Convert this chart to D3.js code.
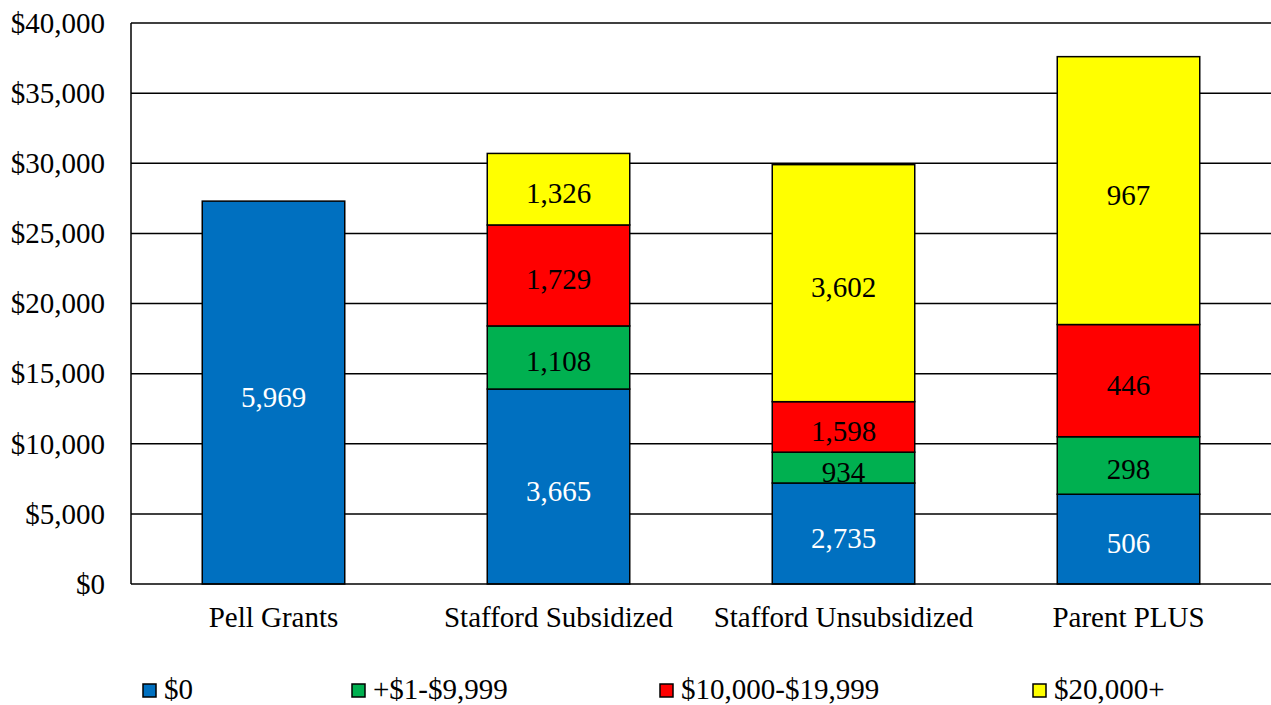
<!DOCTYPE html>
<html>
<head>
<meta charset="utf-8">
<script src="https://cdn.jsdelivr.net/npm/d3@7"></script>
<style>
  html, body { margin: 0; padding: 0; background: #fff; }
  svg, svg text { font-family: 'Liberation Serif', 'Times New Roman', serif !important; }
</style>
</head>
<body>
<svg id="chart" width="1271" height="705"></svg>
<script>
// Aid programs along the x axis
const categories = ["Pell Grants", "Stafford Subsidized", "Stafford Unsubsidized", "Parent PLUS"];
// Debt bands stacked in each bar
const seriesNames = ["$0", "+$1-$9,999", "$10,000-$19,999", "$20,000+"];
const seriesColors = ["#0070C0", "#00B050", "#FF0000", "#FFFF00"];

// Segment heights in dollars, one array per debt band (order follows categories)
const band0 = [27300, 13900, 7200, 6400];
const band1 = [0, 4500, 2200, 4100];
const band2 = [0, 7200, 3600, 8000];
const band3 = [0, 5100, 16900, 19100];

// Student counts written on each segment (null = no label)
const count0 = [5969, 3665, 2735, 506];
const count1 = [null, 1108, 934, 298];
const count2 = [null, 1729, 1598, 446];
const count3 = [null, 1326, 3602, 967];

const yTicks = [0, 5000, 10000, 15000, 20000, 25000, 30000, 35000, 40000];

const bands = [band0, band1, band2, band3];
const counts = [count0, count1, count2, count3];

const W = 1271, H = 705;
const margin = { top: 23, right: 0, bottom: 121, left: 131 };
const plotW = W - margin.left - margin.right;
const plotH = H - margin.top - margin.bottom;
const FS = 29;
const FONT = "'Liberation Serif', 'Times New Roman', serif";

const svg = d3.select("#chart");
const g = svg.append("g").attr("transform", `translate(${margin.left},${margin.top})`);

const x = d3.scaleBand().domain(categories).range([0, plotW]).paddingInner(0.5).paddingOuter(0.25);
const y = d3.scaleLinear().domain([0, 40000]).range([plotH, 0]);

const fmt = d3.format(",");

// Horizontal gridlines
g.append("g")
  .selectAll("line")
  .data(yTicks.filter(d => d > 0))
  .join("line")
  .attr("x1", 0).attr("x2", plotW)
  .attr("y1", d => y(d)).attr("y2", d => y(d))
  .attr("stroke", "#000").attr("stroke-width", 1.5);

// Y axis labels
const yAxis = d3.axisLeft(y).tickValues(yTicks).tickSize(0).tickPadding(26)
  .tickFormat(d => "$" + fmt(d));
const ya = g.append("g").call(yAxis).attr("font-family", null).attr("font-size", null);
ya.select(".domain").remove();
ya.selectAll("text").style("font-size", FS + "px").style("font-family", FONT).attr("fill", "#000");

// Stacked data
const rows = categories.map((c, i) => {
  const r = { category: c };
  seriesNames.forEach((s, k) => { r[s] = bands[k][i]; });
  return r;
});
const stacked = d3.stack().keys(seriesNames)(rows);

const layers = g.append("g").selectAll("g")
  .data(stacked)
  .join("g")
  .attr("fill", (d, k) => seriesColors[k]);

layers.selectAll("rect")
  .data((d, k) => d.map((seg, i) => ({ seg, i, k })).filter(o => o.seg[1] - o.seg[0] > 0))
  .join("rect")
  .attr("x", o => x(categories[o.i]))
  .attr("width", x.bandwidth())
  .attr("y", o => y(o.seg[1]))
  .attr("height", o => y(o.seg[0]) - y(o.seg[1]))
  .attr("stroke", "#000")
  .attr("stroke-width", 1.5);

// Count labels centred on each segment
layers.selectAll("text")
  .data((d, k) => d.map((seg, i) => ({ seg, i, k })).filter(o => counts[o.k][o.i] != null))
  .join("text")
  .attr("x", o => x(categories[o.i]) + x.bandwidth() / 2)
  .attr("y", o => (y(o.seg[0]) + y(o.seg[1])) / 2 + 4)
  .attr("text-anchor", "middle")
  .attr("dominant-baseline", "central")
  .style("font-size", FS + "px")
  .style("font-family", FONT)
  .attr("fill", o => o.k === 0 ? "#fff" : "#000")
  .text(o => fmt(counts[o.k][o.i]));

// Axis lines
g.append("line").attr("x1", 0).attr("x2", 0).attr("y1", 0).attr("y2", plotH)
  .attr("stroke", "#000").attr("stroke-width", 1.5);
g.append("line").attr("x1", 0).attr("x2", plotW).attr("y1", plotH).attr("y2", plotH)
  .attr("stroke", "#000").attr("stroke-width", 1.5);

// Category labels
const xAxis = d3.axisBottom(x).tickSize(0).tickPadding(22);
const xa = g.append("g").attr("transform", `translate(0,${plotH})`).call(xAxis)
  .attr("font-family", null).attr("font-size", null);
xa.select(".domain").remove();
xa.selectAll("text").style("font-size", FS + "px").style("font-family", FONT).attr("fill", "#000");

// Legend
const legendX = [143, 352, 660, 1033];
const legend = svg.append("g").selectAll("g")
  .data(seriesNames)
  .join("g")
  .attr("transform", (d, k) => `translate(${legendX[k]},684)`);
legend.append("rect")
  .attr("width", 13).attr("height", 13)
  .attr("fill", (d, k) => seriesColors[k])
  .attr("stroke", "#000").attr("stroke-width", 1.5);
legend.append("text")
  .attr("x", 21).attr("y", 15)
  .style("font-size", FS + "px")
  .style("font-family", FONT)
  .attr("fill", "#000")
  .text(d => d);
</script>
</body>
</html>
